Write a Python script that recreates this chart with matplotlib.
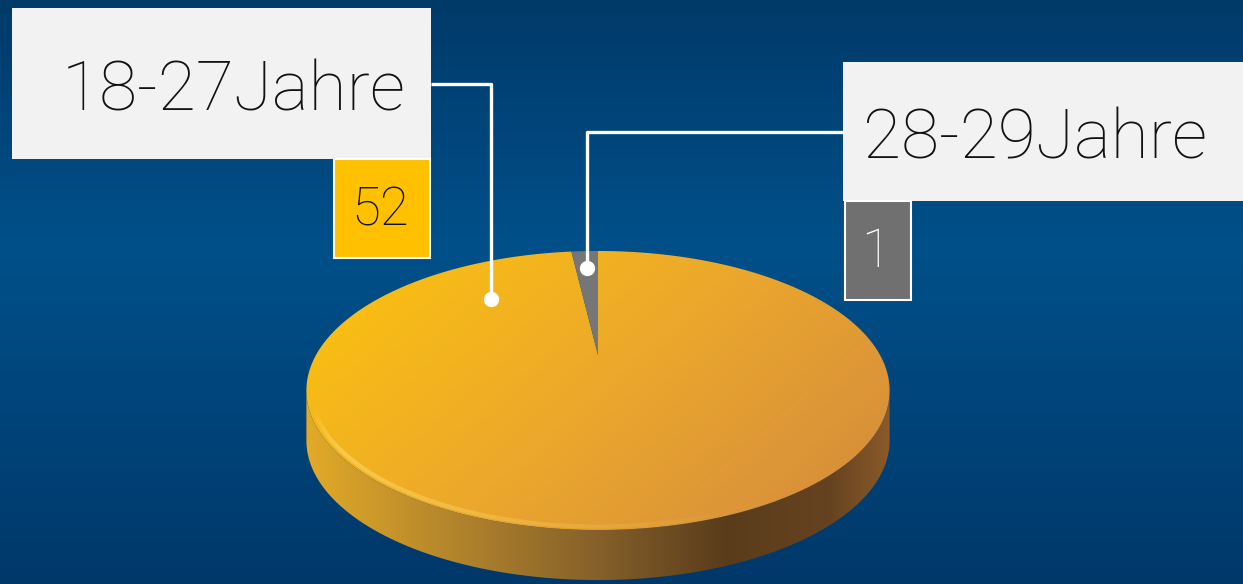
import numpy as np
import matplotlib
matplotlib.use("Agg")
import matplotlib.pyplot as plt
from matplotlib.colors import LinearSegmentedColormap
from matplotlib.collections import LineCollection
from matplotlib.patches import Polygon, Rectangle

# Daten
kategorien = ["18-27Jahre", "28-29Jahre"]
werte = [52, 1]
box_farben = ["#FFC000", "#707070"]
text_farben = ["#111111", "#FFFFFF"]

W, H = 1243, 584
fig = plt.figure(figsize=(W / 100, H / 100), dpi=100)
ax = fig.add_axes([0, 0, 1, 1])
ax.set_xlim(0, W)
ax.set_ylim(H, 0)
ax.axis("off")

# Hintergrund-Verlauf (blau)
bg = LinearSegmentedColormap.from_list(
    "bg", [(0, "#003a69"), (0.42, "#00508a"), (1, "#00386a")])
ax.imshow(np.linspace(0, 1, 256)[:, None], cmap=bg, aspect="auto",
          extent=[0, W, H, 0], zorder=0)

# Geometrie der 3D-Scheibe (perspektivisch geneigt)
CX, CY = 598, 355
RX, RY, K = 282, 130.5, 0.2545
TIEFE = 50


def projiziere(px, py, dy=0.0):
    d = 1 + K * py
    return CX + RX * px / d, CY - RY * py / d + dy


# Seitenwand
a = np.arcsin(K)
t = np.linspace(np.pi + a, 2 * np.pi - a, 300)
xo, yo = projiziere(np.cos(t), np.sin(t))
xu, yu = projiziere(np.cos(t), np.sin(t), TIEFE)
seite = np.vstack([np.column_stack([xo, yo]),
                   np.column_stack([xu, yu])[::-1]])
seite_patch = Polygon(seite, closed=True, facecolor="none", edgecolor="none")
ax.add_patch(seite_patch)
seite_cmap = LinearSegmentedColormap.from_list(
    "seite", [(0, "#e2aa28"), (0.25, "#b3852c"), (0.5, "#85602a"),
              (0.72, "#5a3c1b"), (0.9, "#664320"), (1, "#8a5a2a")])
img = ax.imshow(np.linspace(0, 1, 256)[None, :], cmap=seite_cmap,
                aspect="auto", extent=[xo.min(), xo.max(), H, yo.min()],
                zorder=2)
img.set_clip_path(seite_patch)

# Tortenstuecke (Start oben, im Uhrzeigersinn)
summe = sum(werte)
grenzen = 90 - np.cumsum([0] + werte) / summe * 360
top_cmap = LinearSegmentedColormap.from_list(
    "top", [(0, "#fdc40d"), (0.5, "#eba82c"), (1, "#d3893f")])
gy, gx = np.mgrid[0:1:200j, 0:1:400j]
verlauf = 0.65 * gx + 0.35 * gy
for i, wert in enumerate(werte):
    th = np.radians(np.linspace(grenzen[i], grenzen[i + 1], 400))
    px = np.concatenate([[0], np.cos(th)])
    py = np.concatenate([[0], np.sin(th)])
    sx, sy = projiziere(px, py)
    if i == 0:
        p = Polygon(np.column_stack([sx, sy]), closed=True,
                    facecolor="none", edgecolor="none")
        ax.add_patch(p)
        im = ax.imshow(verlauf, cmap=top_cmap, aspect="auto",
                       extent=[sx.min(), sx.max(), sy.max(), sy.min()],
                       zorder=3)
        im.set_clip_path(p)
    else:
        ax.add_patch(Polygon(np.column_stack([sx, sy]), closed=True,
                             facecolor="#767676", edgecolor="none",
                             zorder=4))

# Lichtkante vorne (links hell, nach rechts auslaufend)
t2 = np.linspace(np.pi + a + 0.12, 2 * np.pi - a, 300)
hx, hy = projiziere(0.985 * np.cos(t2), 0.985 * np.sin(t2))
pts = np.column_stack([hx, hy])
segs = np.stack([pts[:-1], pts[1:]], axis=1)
s = np.linspace(0, 1, len(segs))
alpha = np.clip(np.minimum(s * 8, 1) * (0.7 - s * 1.1), 0, 1)
farben = np.zeros((len(segs), 4))
farben[:, :3] = [1.0, 0.87, 0.45]
farben[:, 3] = alpha
ax.add_collection(LineCollection(segs, colors=farben, linewidths=3,
                                 zorder=5))

# Beschriftungen
boxen = [(12, 8, 419, 151), (843, 62, 400, 139)]
wert_boxen = [(334, 159, 96, 99), (845, 201, 66, 99)]
anker = [(131.5, 0.64), (None, 0.8)]
for i, name in enumerate(kategorien):
    bx, by, bw, bh = boxen[i]
    ax.add_patch(Rectangle((bx, by), bw, bh, facecolor="#f2f2f2",
                           edgecolor="none", zorder=6))
    ax.text(bx + 50 if i == 0 else bx + 20, by + bh / 2 + 27, name,
            fontsize=50, family=["Roboto", "DejaVu Sans"],
            fontweight="light", color="#111111", ha="left",
            va="baseline", zorder=7)
    vx, vy, vw, vh = wert_boxen[i]
    ax.add_patch(Rectangle((vx, vy), vw, vh, facecolor=box_farben[i],
                           edgecolor="white", lw=1.5, zorder=6))
    ax.text(vx + vw / 2 - 2, vy + vh / 2 + 2, str(werte[i]), fontsize=38,
            family=["Roboto", "DejaVu Sans"], fontweight="light",
            color=text_farben[i], ha="center", va="center", zorder=7)

    winkel, r = anker[i]
    if winkel is None:
        winkel = (grenzen[i] + grenzen[i + 1]) / 2
    ex, ey = projiziere(r * np.cos(np.radians(winkel)),
                        r * np.sin(np.radians(winkel)))
    ly = by + bh / 2
    kante = bx + bw if i == 0 else bx
    ax.plot([kante, ex, ex], [ly, ly, ey], color="white", lw=2.4,
            zorder=8, solid_capstyle="butt")
    ax.plot(ex, ey, "o", color="white", ms=10, zorder=9)

fig.savefig("out.png", dpi=100)
